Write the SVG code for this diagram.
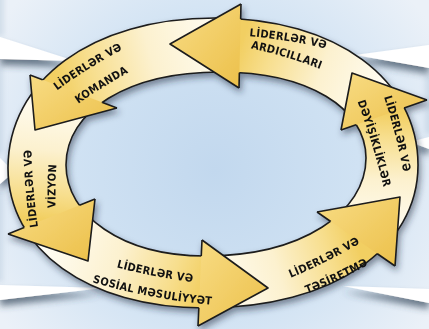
<svg xmlns="http://www.w3.org/2000/svg" width="429" height="329" viewBox="0 0 429 329">
<defs>
<style>
.lbl{font-family:"DejaVu Sans Condensed","DejaVu Sans",sans-serif;font-stretch:condensed;font-weight:bold;font-size:11px;fill:#111;letter-spacing:0.3px}
.edge{fill:none;stroke:#1b1b1b;stroke-width:1.6;stroke-linejoin:round}
.head{fill:url(#hg)}
.wedge{fill:#ffffff}
.panel{fill:#AFC3D8;opacity:0.4}
</style>
<radialGradient id="bg" cx="215" cy="170" r="260" gradientUnits="userSpaceOnUse">
<stop offset="0" stop-color="#C2D8EE"/>
<stop offset="0.55" stop-color="#D0E2F3"/>
<stop offset="1" stop-color="#EBF1F8"/>
</radialGradient>
<linearGradient id="band">
<stop offset="0" stop-color="#FFFDF4"/>
<stop offset="0.45" stop-color="#FCF1CF"/>
<stop offset="0.8" stop-color="#F7DE8D"/>
<stop offset="1" stop-color="#F2CF62"/>
</linearGradient>
<linearGradient id="gK" href="#band" gradientUnits="userSpaceOnUse" x1="230" y1="46" x2="62" y2="96"/>
<linearGradient id="gA" href="#band" gradientUnits="userSpaceOnUse" x1="385" y1="100" x2="240" y2="46"/>
<linearGradient id="gD" href="#band" gradientUnits="userSpaceOnUse" x1="375" y1="235" x2="380" y2="112"/>
<linearGradient id="gT" href="#band" gradientUnits="userSpaceOnUse" x1="210" y1="282" x2="355" y2="238"/>
<linearGradient id="gS" href="#band" gradientUnits="userSpaceOnUse" x1="55" y1="222" x2="205" y2="282"/>
<linearGradient id="gV" href="#band" gradientUnits="userSpaceOnUse" x1="65" y1="95" x2="55" y2="220"/>
<linearGradient id="hg" x1="0" y1="0" x2="1" y2="1">
<stop offset="0" stop-color="#F8DC84"/>
<stop offset="1" stop-color="#ECC04A"/>
</linearGradient>
<path id="ring" fill-rule="evenodd" d="M8,168 C8,81 91,18 215,18 C337,18 418,80 418,165 C418,248 333,308 205,308 C87,308 8,249 8,168 Z M66,165 C66,111 128,72 220,72 C308,72 366,108 366,158 C366,212 302,256 205,256 C122,256 66,215 66,165 Z"/>
<clipPath id="wK"><polygon points="213,163 -336.4,-78.1 307.9,-429.4"/></clipPath>
<clipPath id="wA"><polygon points="213,163 307.9,-429.4 782.6,-25.4"/></clipPath>
<clipPath id="wD"><polygon points="213,163 782.6,-25.4 754.1,422.3"/></clipPath>
<clipPath id="wT"><polygon points="213,163 754.1,422.3 193.1,762.7"/></clipPath>
<clipPath id="wS"><polygon points="213,163 193.1,762.7 -347.2,378"/></clipPath>
<clipPath id="wV"><polygon points="213,163 -347.2,378 -336.4,-78.1"/></clipPath>
<clipPath id="outside"><path clip-rule="evenodd" d="M-10,-10 H440 V340 H-10 Z M8,168 C8,81 91,18 215,18 C337,18 418,80 418,165 C418,248 333,308 205,308 C87,308 8,249 8,168 Z M66,165 C66,111 128,72 220,72 C308,72 366,108 366,158 C366,212 302,256 205,256 C122,256 66,215 66,165 Z"/></clipPath>
<filter id="sh" filterUnits="userSpaceOnUse" x="-20" y="-20" width="470" height="370"><feDropShadow dx="2" dy="4" stdDeviation="3" flood-color="#1c2a3a" flood-opacity="0.5"/></filter>
<filter id="wsh" filterUnits="userSpaceOnUse" x="-20" y="-20" width="470" height="370"><feDropShadow dx="0" dy="6" stdDeviation="3.5" flood-color="#34465a" flood-opacity="0.7"/></filter>
<filter id="blur" filterUnits="userSpaceOnUse" x="-20" y="-20" width="470" height="370"><feGaussianBlur stdDeviation="2.5"/></filter>
<path id="tA1" d="M230.3,34.8 Q287.5,38 344.7,53.2"/>
<path id="tA2" d="M228.8,44.3 Q285,53 341.2,77.7"/>
<path id="tK1" d="M41.7,101.9 Q87.5,66.2 139.7,40.6"/>
<path id="tK2" d="M61.3,116 Q101.7,85.3 147.3,63"/>
<path id="tV1" d="M41.7,249.6 Q30.5,188 31.3,126.8"/>
<path id="tV2" d="M56.6,230 Q53.5,186 58.4,142"/>
<path id="tD1" d="M377,76.6 Q397.8,133.5 407,193.4"/>
<path id="tD2" d="M349.2,79.8 Q374.8,143.6 388.8,210.2"/>
<path id="tS1" d="M96.4,261.7 Q153.8,278.8 213.6,284.3"/>
<path id="tS2" d="M74.3,276.8 Q150.7,301.3 230.7,306.2"/>
<path id="tT1" d="M269.8,286.3 Q327.3,264.3 379.6,231.5"/>
<path id="tT2" d="M285.8,301.3 Q339.5,282.7 388,253.3"/>
</defs>

<rect width="429" height="329" fill="url(#bg)"/>

<g id="panels" filter="url(#blur)">
<rect class="panel" x="-10" y="-6" width="14" height="42"/>
<rect class="panel" x="-10" y="64" width="13" height="90"/>
<rect class="panel" x="-10" y="190" width="13" height="92"/>
<rect class="panel" x="425" y="74" width="14" height="60"/>
</g>

<g id="callouts" filter="url(#wsh)">
<polygon class="wedge" points="0,37 0,59 75,61"/>
<polygon class="wedge" points="0,158 0,184 14,172"/>
<polygon class="wedge" points="0,285 0,300 103,288"/>
<polygon class="wedge" points="429,45 429,68 355,55"/>
<polygon class="wedge" points="429,137 429,149 410,142"/>
<polygon class="wedge" points="429,289 429,303 343,286"/>
</g>

<g id="connectors" filter="url(#sh)">
<g id="bands">
<use href="#ring" fill="url(#gK)" clip-path="url(#wK)"/>
<use href="#ring" fill="url(#gA)" clip-path="url(#wA)"/>
<use href="#ring" fill="url(#gD)" clip-path="url(#wD)"/>
<use href="#ring" fill="url(#gT)" clip-path="url(#wT)"/>
<use href="#ring" fill="url(#gS)" clip-path="url(#wS)"/>
<use href="#ring" fill="url(#gV)" clip-path="url(#wV)"/>
<use href="#ring" class="edge"/>
</g>
<g id="heads">
<polygon class="head" points="241,4 170,44 239,88"/>
<polygon class="head" points="30,75 35,130 117,108"/>
<polygon class="head" points="8,234 88,261 95,199"/>
<polygon class="head" points="202,240 268,288 198,326"/>
<polygon class="head" points="317,212 400,197 395,266"/>
<polygon class="head" points="341,130 352,73 427,100"/>
<path class="edge" d="M241,4 L170,44 L239,88 M30,75 L35,130 L117,108 M8,234 L88,261 L95,199 M202,240 L268,288 L198,326 M317,212 L400,197 L395,266 M341,130 L352,73 L427,100"/>
<path class="edge" clip-path="url(#outside)" d="M241,4 L239,88 M30,75 L117,108 M8,234 L95,199 M202,240 L198,326 M317,212 L395,266 M341,130 L427,100"/>
</g>
</g>

<g id="node-ardicillari">
<text class="lbl" text-anchor="middle"><textPath href="#tA1" startOffset="50%">LİDERLƏR VƏ</textPath></text>
<text class="lbl" text-anchor="middle"><textPath href="#tA2" startOffset="50%">ARDICILLARI</textPath></text>
</g>
<g id="node-komanda">
<text class="lbl" text-anchor="middle"><textPath href="#tK1" startOffset="50%">LİDERLƏR VƏ</textPath></text>
<text class="lbl" text-anchor="middle"><textPath href="#tK2" startOffset="50%">KOMANDA</textPath></text>
</g>
<g id="node-vizyon">
<text class="lbl" text-anchor="middle"><textPath href="#tV1" startOffset="50%">LİDERLƏR VƏ</textPath></text>
<text class="lbl" text-anchor="middle"><textPath href="#tV2" startOffset="50%">VİZYON</textPath></text>
</g>
<g id="node-sosial">
<text class="lbl" text-anchor="middle"><textPath href="#tS1" startOffset="50%">LİDERLƏR VƏ</textPath></text>
<text class="lbl" text-anchor="middle"><textPath href="#tS2" startOffset="50%">SOSİAL MƏSULİYYƏT</textPath></text>
</g>
<g id="node-tesiretme">
<text class="lbl" text-anchor="middle"><textPath href="#tT1" startOffset="50%">LİDERLƏR VƏ</textPath></text>
<text class="lbl" text-anchor="middle"><textPath href="#tT2" startOffset="50%">TƏSİRETMƏ</textPath></text>
</g>
<g id="node-deyisiklikler">
<text class="lbl" text-anchor="middle"><textPath href="#tD1" startOffset="50%">LİDERLƏR VƏ</textPath></text>
<text class="lbl" text-anchor="middle"><textPath href="#tD2" startOffset="50%">DƏYİŞİKLİKLƏR</textPath></text>
</g>
</svg>
